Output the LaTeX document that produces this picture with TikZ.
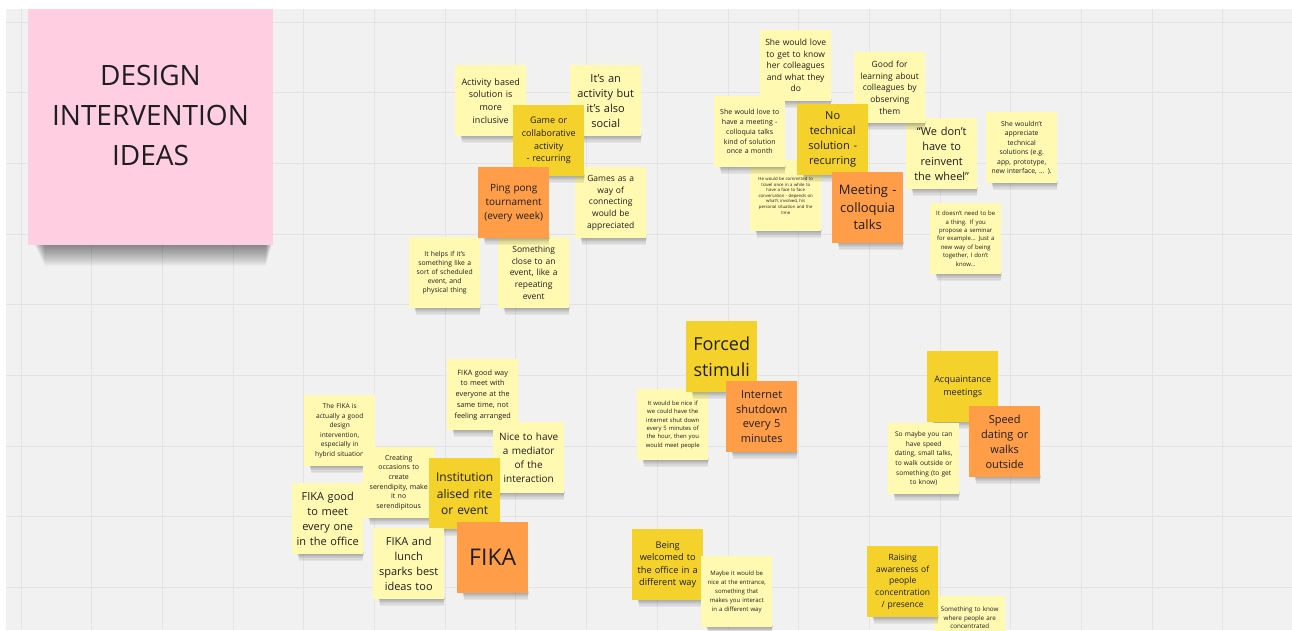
\documentclass[tikz,border=0pt]{standalone}
\usepackage{fontspec}
\setmainfont{Open Sans}
\definecolor{ly}{HTML}{FFF9B1}
\definecolor{yw}{HTML}{F5D12C}
\definecolor{org}{HTML}{FF9D48}
\definecolor{pk}{HTML}{FFCEE0}
\definecolor{board}{HTML}{F1F1F1}
\definecolor{gridline}{HTML}{E3E3E3}
\definecolor{ink}{HTML}{1E1E1E}
\definecolor{faint}{HTML}{9A9A9A}
\newcommand\fsz[2]{\fontsize{#1}{#2}\selectfont}
\tikzset{
  sticky/.style={anchor=north west, minimum width=71pt, minimum height=71pt,
    inner sep=0pt, text width=68pt, align=center, text=ink},
}
% sticky note with a soft shadow under its bottom edge
% #1 name, #2 left, #3 top, #4 colour, #5 font, #6 text
\newcommand\sticky[6]{%
  \foreach \d in {1,...,6}
    \fill[black,opacity=.05] ({#2+5+\d*0.3},{#3+69}) rectangle ({#2+72-\d*0.2},{#3+71+\d*1.1});
  \node[sticky, fill=#4, font=#5] (#1) at (#2,#3) {#6};
}
\begin{document}
\begin{tikzpicture}[x=1pt,y=-1pt]
\clip (0,0) rectangle (1292,630);
% board and grid
\fill[board] (0,0) rectangle (1292,630);
\foreach \k in {0,...,18}
  \draw[gridline, line width=1pt] ({21+70.7*\k},0) -- ({21+70.7*\k},630);
\foreach \k in {0,...,8}
  \draw[gridline, line width=1pt] (0,{22+70.7*\k}) -- (1292,{22+70.7*\k});

% title note with a wide soft shadow
\foreach \d in {0,...,21}
  \fill[black,opacity=.024] ({34+\d*0.5},240) rectangle ({272-\d*0.3},{245+\d});
\node[sticky, anchor=center, fill=pk, minimum width=245pt, minimum height=260pt,
  text width=240pt, font=\fsz{28}{40}] (title) at (150.5,115)
  {DESIGN\\INTERVENTION\\IDEAS};

% activity cluster
\sticky{actbased}{455}{65}{ly}{\fsz{9}{12.7}}{Activity based\\solution is\\more\\inclusive}
\sticky{actsocial}{570}{65}{ly}{\fsz{11}{15}}{It’s an\\activity but\\it’s also\\social}
\sticky{gamesway}{575}{167}{ly}{\fsz{8.5}{11.7}}{Games as a\\way of\\connecting\\would be\\appreciated}
\sticky{helps}{409}{237}{ly}{\fsz{6.8}{9}}{It helps if it’s\\something like a\\sort of scheduled\\event, and\\physical thing}
\sticky{closeevent}{498}{237}{ly}{\fsz{8.5}{11.7}}{Something\\close to an\\event, like a\\repeating\\event}
\sticky{game}{513}{105}{yw}{\fsz{9}{12.7}}{Game or\\collaborative\\activity\\- recurring}
\sticky{pingpong}{478}{167}{org}{\fsz{10}{14}}{Ping pong\\tournament\\(every week)}

% meeting cluster
\sticky{wheel}{906}{118}{ly}{\fsz{11}{15}}{“We don’t\\have to\\reinvent\\the wheel”}
\sticky{getknow}{760}{30}{ly}{\fsz{8.5}{11.5}}{She would love\\to get to know\\her colleagues\\and what they\\do}
\sticky{observing}{854}{52}{ly}{\fsz{8.5}{11.7}}{Good for\\learning about\\colleagues by\\observing\\them}
\sticky{travel}{750}{160}{ly}{\fsz{4.3}{5.6}\color{faint}}{He would be committed to\\travel once in a while to\\have a face to face\\conversation - depends on\\what’s involved, his\\personal situation and the\\time}
\sticky{monthly}{714}{96}{ly}{\fsz{7}{9.7}}{She would love to\\have a meeting -\\colloquia talks\\kind of solution\\once a month}
\sticky{notech}{797}{104}{yw}{\fsz{11}{15}}{No\\technical\\solution -\\recurring}
\sticky{colloquia}{832}{172}{org}{\fsz{13}{17.5}}{Meeting -\\colloquia\\talks}
\sticky{noapp}{986}{112}{ly}{\fsz{6.8}{9.5}}{She wouldn’t\\appreciate\\technical\\solutions (e.g.\\app, prototype,\\new interface, ... ).}
\sticky{seminar}{930}{203}{ly}{\fsz{6}{8.4}}{It doesn’t need to be\\a thing. If you\\propose a seminar\\for example... Just a\\new way of being\\together, I don’t\\know...}

% forced stimuli
\sticky{shutnote}{637}{389}{ly}{\fsz{5.9}{8.3}}{It would be nice if\\we could have the\\internet shut down\\every 5 minutes of\\the hour, then you\\would meet people}
\sticky{forced}{686}{321}{yw}{\fsz{18}{26}}{Forced\\stimuli}
\sticky{shutdown}{726}{381}{org}{\fsz{11}{14.7}}{Internet\\shutdown\\every 5\\minutes}

% welcome
\sticky{welcomed}{632}{529}{yw}{\fsz{9.2}{12.3}}{Being\\welcomed to\\the office in a\\different way}
\sticky{entrance}{701}{556}{ly}{\fsz{6}{9}}{Maybe it would be\\nice at the entrance,\\something that\\makes you interact\\in a different way}

% acquaintance
\sticky{acquaint}{927}{351}{yw}{\fsz{9}{12.3}}{Acquaintance\\meetings}
\sticky{speed}{969}{406}{org}{\fsz{11}{15}}{Speed\\dating or\\walks\\outside}
\sticky{smalltalk}{888}{423}{ly}{\fsz{6.6}{9.6}}{So maybe you can\\have speed\\dating, small talks,\\to walk outside or\\something (to get\\to know)}

% presence
\sticky{whereppl}{934}{596}{ly}{\fsz{6.3}{8.7}}{\parbox[t][64pt][t]{68pt}{\centering\vspace*{7pt}Something to know\\where people are\\concentrated}}
\sticky{awareness}{867}{546}{yw}{\fsz{8.5}{11.7}}{Raising\\awareness of\\people\\concentration\\/ presence}

% FIKA cluster
\sticky{fikahybrid}{304}{395}{ly}{\fsz{6.6}{9.6}}{The FIKA is\\actually a good\\design\\intervention,\\especially in\\hybrid situation}
\sticky{fikaoffice}{292}{483}{ly}{\fsz{11}{15}}{FIKA good\\to meet\\every one\\in the office}
\sticky{serendipity}{363}{447}{ly}{\fsz{7}{9.7}}{Creating\\occasions to\\create\\serendipity, make\\it no\\serendipitous}
\sticky{fikaway}{447}{359}{ly}{\fsz{7.3}{10.8}}{FIKA good way\\to meet with\\everyone at the\\same time, not\\feeling arranged}
\sticky{mediator}{493}{422}{ly}{\fsz{10}{13.7}}{Nice to have\\a mediator\\of the\\interaction}
\sticky{rite}{429}{458}{yw}{\fsz{12}{16.7}}{Institution\\alised rite\\or event}
\sticky{lunch}{373}{528}{ly}{\fsz{11}{15}}{FIKA and\\lunch\\sparks best\\ideas too}
\sticky{fika}{457}{522}{org}{\fsz{23}{28}}{FIKA}

% white border of the board
\fill[white] (0,0) rectangle (1292,9);
\fill[white] (0,0) rectangle (6,630);
\end{tikzpicture}
\end{document}
